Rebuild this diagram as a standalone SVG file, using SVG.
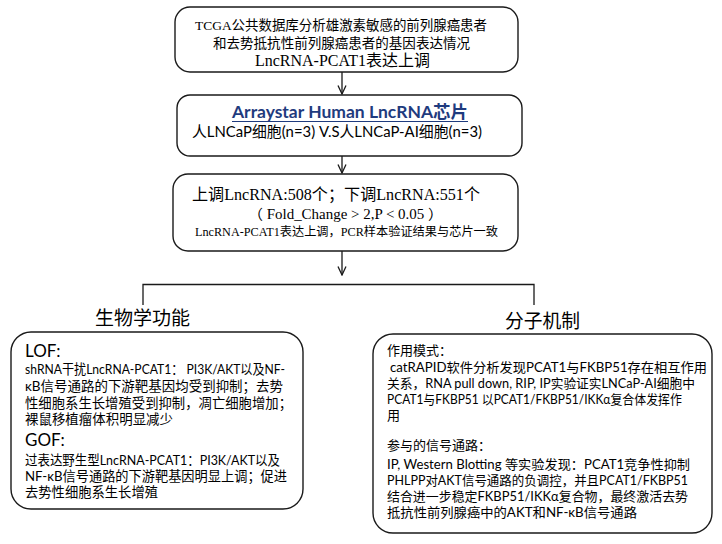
<svg xmlns="http://www.w3.org/2000/svg" width="722" height="544" viewBox="0 0 722 544">
<defs>
<style>
.box{fill:#fff;stroke:#1a1a1a;stroke-width:1.4}
.ln{fill:none;stroke:#1a1a1a;stroke-width:1.3}
.serif{font-family:"Liberation Serif","Noto Sans CJK SC",serif;fill:#000}
.sans{font-family:"Lato","Noto Sans CJK SC",sans-serif;fill:#000}
.body{font-size:13.3px}
.head{font-size:17px}
.sec{font-size:19px}
</style>
<marker id="arr" viewBox="0 0 10 10" refX="9.5" refY="5" markerWidth="10" markerHeight="10" markerUnits="userSpaceOnUse" orient="auto">
<path d="M1,1 L9.5,5 L1,9" fill="none" stroke="#1a1a1a" stroke-width="1.3"/>
</marker>
</defs>
<rect width="722" height="544" fill="#fff"/>

<g id="connectors">
<line class="ln" x1="342" y1="72" x2="342" y2="94" marker-end="url(#arr)"/>
<line class="ln" x1="342" y1="156" x2="342" y2="173" marker-end="url(#arr)"/>
<line class="ln" x1="342" y1="251" x2="342" y2="275" marker-end="url(#arr)"/>
<polyline class="ln" points="143,305 143,284.5 534,284.5 534,305"/>
</g>

<g id="node-tcga">
<rect class="box" x="175" y="7" width="343" height="65" rx="15"/>
<text class="serif" x="195" y="30" font-size="13.5" textLength="292" lengthAdjust="spacingAndGlyphs">TCGA公共数据库分析雄激素敏感的前列腺癌患者</text>
<text class="serif" x="213" y="48" font-size="13.5" textLength="257" lengthAdjust="spacingAndGlyphs">和去势抵抗性前列腺癌患者的基因表达情况</text>
<text class="serif" x="255" y="66" font-size="16" textLength="175" lengthAdjust="spacingAndGlyphs">LncRNA-PCAT1表达上调</text>
</g>

<g id="node-array">
<rect class="box" x="177" y="95" width="345" height="61" rx="13"/>
<text class="sans" x="232" y="118" font-size="17" font-weight="bold" style="fill:#1f3b7e" textLength="236" lengthAdjust="spacingAndGlyphs">Arraystar Human LncRNA芯片</text>
<line x1="232" y1="121.5" x2="468" y2="121.5" stroke="#1f3b7e" stroke-width="1.2"/>
<text class="sans" x="192" y="137" font-size="15" textLength="290" lengthAdjust="spacingAndGlyphs">人LNCaP细胞(n=3) V.S人LNCaP-AI细胞(n=3)</text>
</g>

<g id="node-result">
<rect class="box" x="173" y="174" width="345" height="77" rx="15"/>
<text class="serif" x="192" y="200" font-size="16" textLength="288" lengthAdjust="spacingAndGlyphs">上调LncRNA:508个；下调LncRNA:551个</text>
<text class="serif" x="248" y="219" font-size="14" textLength="195" lengthAdjust="spacingAndGlyphs">（ Fold_Change &gt; 2,P &lt; 0.05 ）</text>
<text class="serif" x="195" y="236" font-size="12" textLength="303" lengthAdjust="spacingAndGlyphs">LncRNA-PCAT1表达上调，PCR样本验证结果与芯片一致</text>
</g>

<g id="node-bio">
<text class="sans sec" x="95" y="325" textLength="95" lengthAdjust="spacingAndGlyphs">生物学功能</text>
<rect class="box" x="11" y="332" width="292" height="177" rx="20"/>
<text class="sans head" x="25" y="357">LOF:</text>
<text class="sans body" x="25" y="374" textLength="260" lengthAdjust="spacingAndGlyphs">shRNA干扰LncRNA-PCAT1： PI3K/AKT以及NF-</text>
<text class="sans body" x="25" y="391" textLength="258" lengthAdjust="spacingAndGlyphs">κB信号通路的下游靶基因均受到抑制；去势</text>
<text class="sans body" x="25" y="408" textLength="267" lengthAdjust="spacingAndGlyphs">性细胞系生长增殖受到抑制，凋亡细胞增加；</text>
<text class="sans body" x="25" y="424" textLength="148" lengthAdjust="spacingAndGlyphs">裸鼠移植瘤体积明显减少</text>
<text class="sans head" x="25" y="446">GOF:</text>
<text class="sans body" x="25" y="465" textLength="255" lengthAdjust="spacingAndGlyphs">过表达野生型LncRNA-PCAT1：PI3K/AKT以及</text>
<text class="sans body" x="25" y="481" textLength="262" lengthAdjust="spacingAndGlyphs">NF-κB信号通路的下游靶基因明显上调；促进</text>
<text class="sans body" x="25" y="497" textLength="133" lengthAdjust="spacingAndGlyphs">去势性细胞系生长增殖</text>
</g>

<g id="node-mech">
<text class="sans sec" x="505" y="328" textLength="75" lengthAdjust="spacingAndGlyphs">分子机制</text>
<rect class="box" x="373" y="334" width="339" height="199" rx="20"/>
<text class="sans" font-size="13" x="387" y="355">作用模式：</text>
<text class="sans" font-size="13" x="390" y="372" textLength="317" lengthAdjust="spacingAndGlyphs">catRAPID软件分析发现PCAT1与FKBP51存在相互作用</text>
<text class="sans" font-size="13" x="387" y="388" textLength="308" lengthAdjust="spacingAndGlyphs">关系，RNA pull down, RIP, IP实验证实LNCaP-AI细胞中</text>
<text class="sans" font-size="13" x="387" y="404" textLength="295" lengthAdjust="spacingAndGlyphs">PCAT1与FKBP51 以PCAT1/FKBP51/IKKα复合体发挥作</text>
<text class="sans" font-size="13" x="387" y="420">用</text>
<text class="sans" font-size="13" x="387" y="450">参与的信号通路：</text>
<text class="sans" font-size="13" x="387" y="469" textLength="303" lengthAdjust="spacingAndGlyphs">IP, Western  Blotting 等实验发现：PCAT1竞争性抑制</text>
<text class="sans" font-size="13" x="387" y="485" textLength="301" lengthAdjust="spacingAndGlyphs">PHLPP对AKT信号通路的负调控，并且PCAT1/FKBP51</text>
<text class="sans" font-size="13" x="387" y="501" textLength="301" lengthAdjust="spacingAndGlyphs">结合进一步稳定FKBP51/IKKα复合物，最终激活去势</text>
<text class="sans" font-size="13" x="387" y="517" textLength="250" lengthAdjust="spacingAndGlyphs">抵抗性前列腺癌中的AKT和NF-κB信号通路</text>
</g>
</svg>
